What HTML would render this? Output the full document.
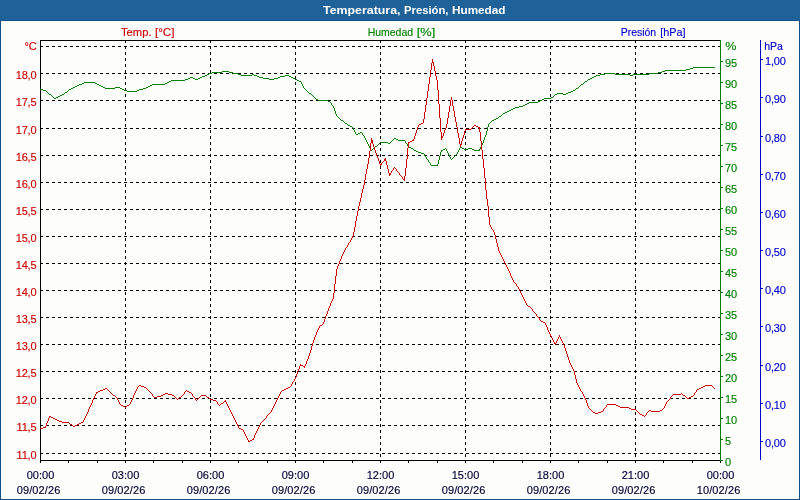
<!DOCTYPE html>
<html><head><meta charset="utf-8"><title>Temperatura, Presión, Humedad</title>
<style>html,body{margin:0;padding:0;background:#0e508c;overflow:hidden}svg{display:block}text{font-family:"Liberation Sans",sans-serif;font-size:11px;stroke-width:.15px;paint-order:stroke}.ax text{letter-spacing:-.15px}</style></head><body>
<svg width="800" height="500" viewBox="0 0 800 500">
<rect x="0" y="0" width="800" height="500" fill="#0e508c"/>
<defs><pattern id="dz" width="4" height="4" patternUnits="userSpaceOnUse"><rect x="3" y="1" width="1" height="1" fill="#2a6cc6"/><rect x="1" y="3" width="1" height="1" fill="#2a6cc6"/></pattern></defs>
<rect x="0" y="0" width="800" height="20" fill="#1d6197"/>
<rect x="0" y="0" width="800" height="20" fill="url(#dz)" opacity="0.4" shape-rendering="crispEdges"/>
<rect x="1" y="21" width="798" height="478" fill="#fdfefc"/>
<g fill="#ffffff" font-weight="bold" lengthAdjust="spacingAndGlyphs"><text x="323" y="14" textLength="77.5" lengthAdjust="spacingAndGlyphs">Temperatura,</text><text x="404" y="14" textLength="44.5" lengthAdjust="spacingAndGlyphs">Presión,</text><text x="452" y="14" textLength="53.5" lengthAdjust="spacingAndGlyphs">Humedad</text></g>
<g fill="#cc0000" stroke="#cc0000"><text x="121" y="36" textLength="30.5" lengthAdjust="spacingAndGlyphs">Temp.</text><text x="155" y="36" textLength="19.5" lengthAdjust="spacingAndGlyphs">[°C]</text></g>
<g fill="#008000" stroke="#008000"><text x="367.7" y="36" textLength="45.4" lengthAdjust="spacingAndGlyphs">Humedad</text><text x="416.8" y="36" textLength="18.6" lengthAdjust="spacingAndGlyphs">[%]</text></g>
<g fill="#0000cc" stroke="#0000cc"><text x="620.7" y="36" textLength="35.5" lengthAdjust="spacingAndGlyphs">Presión</text><text x="660.3" y="36" textLength="25.2" lengthAdjust="spacingAndGlyphs">[hPa]</text></g>
<g shape-rendering="crispEdges" fill="none" stroke="#000" stroke-width="1">
<g stroke-dasharray="3 3">
<line x1="40" y1="46.5" x2="720" y2="46.5"/>
<line x1="40" y1="73.5" x2="720" y2="73.5"/>
<line x1="40" y1="100.5" x2="720" y2="100.5"/>
<line x1="40" y1="128.5" x2="720" y2="128.5"/>
<line x1="40" y1="155.5" x2="720" y2="155.5"/>
<line x1="40" y1="182.5" x2="720" y2="182.5"/>
<line x1="40" y1="209.5" x2="720" y2="209.5"/>
<line x1="40" y1="236.5" x2="720" y2="236.5"/>
<line x1="40" y1="263.5" x2="720" y2="263.5"/>
<line x1="40" y1="290.5" x2="720" y2="290.5"/>
<line x1="40" y1="317.5" x2="720" y2="317.5"/>
<line x1="40" y1="344.5" x2="720" y2="344.5"/>
<line x1="40" y1="371.5" x2="720" y2="371.5"/>
<line x1="40" y1="398.5" x2="720" y2="398.5"/>
<line x1="40" y1="425.5" x2="720" y2="425.5"/>
<line x1="40" y1="453.5" x2="720" y2="453.5"/>
<line x1="125.5" y1="40" x2="125.5" y2="460"/>
<line x1="210.5" y1="40" x2="210.5" y2="460"/>
<line x1="295.5" y1="40" x2="295.5" y2="460"/>
<line x1="380.5" y1="40" x2="380.5" y2="460"/>
<line x1="465.5" y1="40" x2="465.5" y2="460"/>
<line x1="550.5" y1="40" x2="550.5" y2="460"/>
<line x1="635.5" y1="40" x2="635.5" y2="460"/>
</g>
<path d="M40 40.5H721M40.5 40V463M40 460.5H721"/>
<path d="M68.5 460V463M97.5 460V463M125.5 460V463M153.5 460V463M182.5 460V463M210.5 460V463M238.5 460V463M267.5 460V463M295.5 460V463M323.5 460V463M352.5 460V463M380.5 460V463M408.5 460V463M437.5 460V463M465.5 460V463M493.5 460V463M522.5 460V463M550.5 460V463M578.5 460V463M607.5 460V463M635.5 460V463M663.5 460V463M692.5 460V463M720.5 460V463"/>
<path stroke="#008000" d="M720.5 40V461M720 460.5H723M720 439.5H723M720 418.5H723M720 397.5H723M720 376.5H723M720 355.5H723M720 334.5H723M720 313.5H723M720 292.5H723M720 271.5H723M720 250.5H723M720 229.5H723M720 208.5H723M720 187.5H723M720 166.5H723M720 145.5H723M720 124.5H723M720 103.5H723M720 82.5H723M720 61.5H723"/>
<path stroke="#0000cc" d="M760.5 40V460M760 441.5H763M760 403.5H763M760 365.5H763M760 326.5H763M760 288.5H763M760 250.5H763M760 212.5H763M760 174.5H763M760 136.5H763M760 97.5H763M760 59.5H763"/>
<path stroke="#008000" d="M334.5 108v3M335.5 111v3M438.5 160v4M439.5 156v4M440.5 152v4M483.5 140v3M484.5 137v3M486.5 131v4M487.5 127v4M488.5 124v3M693 67.5h22M690 68.5h3M686 69.5h4M665 70.5h21M222 71.5h7M662 71.5h3M212 72.5h10M229 72.5h4M658 72.5h4M209 73.5h3M233 73.5h5M605 73.5h10M649 73.5h9M207 74.5h2M238 74.5h3M252 74.5h2M600 74.5h5M615 74.5h15M633 74.5h16M205 75.5h2M241 75.5h11M254 75.5h3M285 75.5h4M596 75.5h4M630 75.5h3M202 76.5h3M257 76.5h2M280 76.5h5M289 76.5h2M594 76.5h2M190 77.5h3M200 77.5h2M259 77.5h4M278 77.5h2M291 77.5h2M592 77.5h2M188 78.5h2M193 78.5h2M198 78.5h2M263 78.5h6M274 78.5h4M293 78.5h2M590 78.5h2M185 79.5h3M195 79.5h3M269 79.5h5M295 79.5h2M588 79.5h2M171 80.5h14M297 80.5h2M587 80.5h1M169 81.5h2M299 81.5h2M585 81.5h2M84 82.5h11M167 82.5h2M301 82.5h1M584 82.5h1M82 83.5h2M95 83.5h2M165 83.5h2M301 83.5h1M583 83.5h1M79 84.5h3M97 84.5h2M152 84.5h13M302 84.5h1M581 84.5h2M77 85.5h2M99 85.5h2M150 85.5h2M302 85.5h1M580 85.5h1M75 86.5h2M101 86.5h2M148 86.5h2M303 86.5h1M579 86.5h1M73 87.5h2M103 87.5h2M115 87.5h5M146 87.5h2M303 87.5h1M578 87.5h1M71 88.5h2M105 88.5h10M120 88.5h2M143 88.5h3M304 88.5h1M576 88.5h2M40 89.5h3M69 89.5h2M122 89.5h2M139 89.5h4M305 89.5h1M575 89.5h1M43 90.5h3M68 90.5h1M124 90.5h3M137 90.5h2M306 90.5h1M573 90.5h2M46 91.5h1M67 91.5h1M127 91.5h10M307 91.5h1M571 91.5h2M47 92.5h1M65 92.5h2M308 92.5h1M568 92.5h3M48 93.5h1M64 93.5h1M309 93.5h2M557 93.5h6M566 93.5h2M49 94.5h2M62 94.5h2M311 94.5h1M555 94.5h2M563 94.5h3M51 95.5h1M60 95.5h2M312 95.5h1M554 95.5h1M52 96.5h1M58 96.5h2M313 96.5h1M553 96.5h1M53 97.5h1M56 97.5h2M314 97.5h1M551 97.5h2M54 98.5h2M315 98.5h1M544 98.5h7M316 99.5h2M542 99.5h2M318 100.5h10M540 100.5h2M328 101.5h2M538 101.5h2M330 102.5h1M529 102.5h9M331 103.5h1M527 103.5h2M331 104.5h1M525 104.5h2M332 105.5h1M523 105.5h2M333 106.5h1M519 106.5h4M333 107.5h1M515 107.5h4M513 108.5h2M511 109.5h2M509 110.5h2M507 111.5h2M505 112.5h2M503 113.5h2M336 114.5h1M502 114.5h1M336 115.5h1M501 115.5h1M337 116.5h1M499 116.5h2M338 117.5h1M498 117.5h1M339 118.5h1M496 118.5h2M340 119.5h1M494 119.5h2M341 120.5h2M492 120.5h2M343 121.5h1M491 121.5h1M344 122.5h1M490 122.5h1M345 123.5h2M489 123.5h1M347 124.5h1M348 125.5h2M350 126.5h2M352 127.5h1M353 128.5h1M353 129.5h1M354 130.5h1M354 131.5h1M355 132.5h1M360 132.5h2M355 133.5h1M358 133.5h2M362 133.5h1M356 134.5h2M362 134.5h1M363 135.5h1M485 135.5h1M364 136.5h1M485 136.5h1M364 137.5h1M365 138.5h1M394 138.5h2M365 139.5h1M393 139.5h1M396 139.5h2M366 140.5h1M392 140.5h1M398 140.5h7M366 141.5h1M391 141.5h1M405 141.5h1M367 142.5h1M380 142.5h8M390 142.5h1M405 142.5h1M367 143.5h1M379 143.5h1M388 143.5h2M406 143.5h1M482 143.5h1M368 144.5h1M378 144.5h1M407 144.5h1M482 144.5h1M368 145.5h1M377 145.5h1M407 145.5h1M481 145.5h1M369 146.5h1M375 146.5h2M408 146.5h1M481 146.5h1M369 147.5h1M374 147.5h1M409 147.5h2M460 147.5h2M480 147.5h1M370 148.5h1M373 148.5h1M411 148.5h2M445 148.5h1M459 148.5h1M462 148.5h2M468 148.5h4M480 148.5h1M370 149.5h1M372 149.5h1M413 149.5h1M443 149.5h2M446 149.5h1M459 149.5h1M464 149.5h4M472 149.5h2M479 149.5h1M371 150.5h1M414 150.5h2M441 150.5h2M446 150.5h1M458 150.5h1M474 150.5h6M416 151.5h2M441 151.5h1M447 151.5h1M458 151.5h1M418 152.5h3M447 152.5h1M457 152.5h1M421 153.5h3M448 153.5h1M457 153.5h1M424 154.5h1M448 154.5h1M456 154.5h1M424 155.5h1M449 155.5h1M455 155.5h1M425 156.5h1M449 156.5h1M454 156.5h1M426 157.5h1M450 157.5h1M453 157.5h1M426 158.5h1M450 158.5h1M452 158.5h1M427 159.5h1M451 159.5h1M428 160.5h1M428 161.5h1M429 162.5h1M430 163.5h1M430 164.5h1M437 164.5h1M431 165.5h7"/>
<path stroke="#cc0000" d="M46.5 423v3M48.5 418v3M88.5 409v3M92.5 400v3M133.5 395v3M254.5 435v3M296.5 374v3M297.5 371v3M299.5 366v3M306.5 361v3M308.5 356v3M309.5 353v3M310.5 350v3M311.5 346v4M312.5 343v3M313.5 340v3M314.5 337v3M316.5 332v3M324.5 319v3M325.5 316v3M327.5 311v3M328.5 308v3M330.5 303v3M333.5 293v6M334.5 284v9M335.5 276v8M336.5 269v7M337.5 266v3M339.5 261v3M341.5 256v3M353.5 232v4M354.5 227v5M355.5 221v6M356.5 216v5M357.5 211v5M358.5 206v5M359.5 202v4M360.5 198v4M361.5 193v5M362.5 189v4M363.5 185v4M364.5 180v5M365.5 174v6M366.5 169v5M367.5 164v5M368.5 158v6M369.5 151v7M370.5 143v8M371.5 138v5M372.5 140v4M373.5 144v3M374.5 147v3M375.5 150v3M376.5 153v3M378.5 158v3M379.5 161v3M385.5 158v3M386.5 161v4M387.5 165v4M388.5 169v4M389.5 173v3M404.5 176v5M405.5 168v8M406.5 159v9M407.5 148v11M408.5 142v6M414.5 136v3M415.5 133v3M416.5 130v3M417.5 127v3M423.5 119v4M424.5 112v7M425.5 105v7M426.5 98v7M427.5 91v7M428.5 84v7M429.5 77v7M430.5 70v7M431.5 63v7M432.5 59v4M433.5 62v4M434.5 66v5M435.5 71v5M436.5 76v4M437.5 80v10M438.5 90v14M439.5 104v14M440.5 118v14M441.5 132v8M443.5 133v3M444.5 130v3M446.5 124v4M447.5 118v6M448.5 112v6M449.5 106v6M450.5 100v6M451.5 97v3M452.5 100v6M453.5 106v5M454.5 111v6M455.5 117v5M456.5 122v5M457.5 127v6M458.5 133v5M459.5 138v6M460.5 144v3M461.5 141v4M462.5 138v3M463.5 135v3M464.5 131v4M479.5 127v5M480.5 132v9M481.5 141v9M482.5 150v9M483.5 159v9M484.5 168v10M485.5 178v12M486.5 190v9M487.5 199v7M488.5 206v11M489.5 217v8M494.5 232v3M495.5 235v4M496.5 239v4M497.5 243v4M498.5 247v4M510.5 273v3M547.5 327v3M564.5 345v3M565.5 348v3M566.5 351v3M567.5 354v3M568.5 357v3M569.5 360v3M574.5 371v4M575.5 375v4M576.5 379v4M586.5 400v3M587.5 403v3M421 123.5h2M419 124.5h2M418 125.5h1M474 125.5h2M418 126.5h1M473 126.5h1M476 126.5h2M472 127.5h1M478 127.5h1M445 128.5h1M471 128.5h1M445 129.5h1M465 129.5h6M465 130.5h1M442 136.5h1M442 137.5h1M413 139.5h1M412 140.5h2M410 141.5h2M409 142.5h1M377 156.5h1M377 157.5h1M384 159.5h1M384 160.5h1M383 161.5h1M382 162.5h1M381 163.5h1M380 164.5h2M380 165.5h1M394 167.5h1M393 168.5h1M395 168.5h1M393 169.5h1M396 169.5h1M392 170.5h1M396 170.5h1M391 171.5h1M397 171.5h1M391 172.5h1M398 172.5h1M390 173.5h1M399 173.5h1M390 174.5h1M399 174.5h1M400 175.5h1M401 176.5h1M402 177.5h1M402 178.5h1M403 179.5h1M490 225.5h1M490 226.5h1M491 227.5h1M491 228.5h1M492 229.5h1M493 230.5h1M493 231.5h1M352 236.5h1M352 237.5h1M351 238.5h1M351 239.5h1M350 240.5h1M350 241.5h1M349 242.5h1M348 243.5h1M348 244.5h1M347 245.5h1M347 246.5h1M346 247.5h1M345 248.5h1M345 249.5h1M344 250.5h1M344 251.5h1M499 251.5h1M343 252.5h1M499 252.5h1M343 253.5h1M500 253.5h1M342 254.5h1M500 254.5h1M342 255.5h1M501 255.5h1M501 256.5h1M502 257.5h1M502 258.5h1M340 259.5h1M503 259.5h1M340 260.5h1M503 260.5h1M504 261.5h1M504 262.5h1M505 263.5h1M338 264.5h1M505 264.5h1M338 265.5h1M506 265.5h1M506 266.5h1M507 267.5h1M507 268.5h1M508 269.5h1M508 270.5h1M509 271.5h1M509 272.5h1M511 276.5h1M511 277.5h1M512 278.5h1M512 279.5h1M513 280.5h1M513 281.5h1M514 282.5h1M515 283.5h1M516 284.5h1M516 285.5h1M517 286.5h1M518 287.5h1M518 288.5h1M519 289.5h1M519 290.5h1M520 291.5h1M520 292.5h1M521 293.5h1M521 294.5h1M522 295.5h1M522 296.5h1M523 297.5h1M523 298.5h1M332 299.5h1M524 299.5h1M332 300.5h1M524 300.5h1M331 301.5h1M525 301.5h1M331 302.5h1M525 302.5h1M526 303.5h1M526 304.5h1M527 305.5h1M329 306.5h1M528 306.5h2M329 307.5h1M530 307.5h1M531 308.5h1M532 309.5h1M532 310.5h1M533 311.5h1M534 312.5h1M535 313.5h1M326 314.5h1M536 314.5h1M326 315.5h1M536 315.5h1M537 316.5h1M538 317.5h1M539 318.5h1M539 319.5h1M540 320.5h1M541 321.5h2M323 322.5h1M543 322.5h2M323 323.5h1M545 323.5h1M322 324.5h1M545 324.5h1M320 325.5h2M546 325.5h1M319 326.5h1M546 326.5h1M319 327.5h1M318 328.5h1M318 329.5h1M317 330.5h1M548 330.5h1M317 331.5h1M548 331.5h1M549 332.5h1M549 333.5h1M550 334.5h1M315 335.5h1M550 335.5h1M559 335.5h1M315 336.5h1M551 336.5h1M559 336.5h1M551 337.5h1M558 337.5h1M560 337.5h1M552 338.5h1M558 338.5h1M560 338.5h1M552 339.5h1M557 339.5h1M561 339.5h1M553 340.5h1M557 340.5h1M561 340.5h1M553 341.5h1M556 341.5h1M562 341.5h1M554 342.5h1M556 342.5h1M562 342.5h1M554 343.5h2M563 343.5h1M555 344.5h1M563 344.5h1M307 359.5h1M307 360.5h1M570 363.5h1M300 364.5h1M305 364.5h1M570 364.5h1M300 365.5h3M305 365.5h1M571 365.5h1M303 366.5h2M571 366.5h1M304 367.5h1M572 367.5h1M572 368.5h1M298 369.5h1M573 369.5h1M298 370.5h1M573 370.5h1M295 377.5h1M295 378.5h1M294 379.5h1M294 380.5h1M293 381.5h1M292 382.5h1M292 383.5h1M577 383.5h1M291 384.5h1M577 384.5h1M139 385.5h2M291 385.5h1M578 385.5h1M705 385.5h7M138 386.5h1M141 386.5h3M290 386.5h1M578 386.5h1M703 386.5h2M712 386.5h1M137 387.5h1M144 387.5h2M288 387.5h2M579 387.5h1M701 387.5h2M713 387.5h1M105 388.5h2M137 388.5h1M146 388.5h1M286 388.5h2M579 388.5h1M699 388.5h2M714 388.5h1M103 389.5h2M107 389.5h1M136 389.5h1M147 389.5h1M284 389.5h2M580 389.5h1M697 389.5h2M100 390.5h3M108 390.5h1M136 390.5h1M148 390.5h1M186 390.5h1M282 390.5h2M580 390.5h1M696 390.5h1M98 391.5h2M109 391.5h1M135 391.5h1M149 391.5h1M185 391.5h1M187 391.5h2M281 391.5h1M581 391.5h1M696 391.5h1M96 392.5h2M110 392.5h1M135 392.5h1M150 392.5h1M184 392.5h1M189 392.5h2M280 392.5h1M582 392.5h1M695 392.5h1M96 393.5h1M111 393.5h1M134 393.5h1M151 393.5h1M165 393.5h3M184 393.5h1M191 393.5h1M280 393.5h1M582 393.5h1M681 393.5h1M694 393.5h1M95 394.5h1M112 394.5h1M134 394.5h1M152 394.5h1M163 394.5h2M168 394.5h4M183 394.5h1M192 394.5h1M279 394.5h1M583 394.5h1M673 394.5h8M682 394.5h1M694 394.5h1M95 395.5h1M113 395.5h2M152 395.5h1M161 395.5h2M172 395.5h2M182 395.5h1M192 395.5h1M201 395.5h5M279 395.5h1M583 395.5h1M672 395.5h1M683 395.5h2M693 395.5h1M94 396.5h1M115 396.5h1M153 396.5h1M157 396.5h4M174 396.5h1M181 396.5h1M193 396.5h1M200 396.5h1M206 396.5h1M278 396.5h1M584 396.5h1M671 396.5h1M685 396.5h1M691 396.5h2M94 397.5h1M116 397.5h1M154 397.5h3M175 397.5h1M179 397.5h2M194 397.5h1M199 397.5h1M207 397.5h2M278 397.5h1M584 397.5h1M670 397.5h1M686 397.5h1M689 397.5h2M93 398.5h1M117 398.5h1M132 398.5h1M176 398.5h1M178 398.5h1M195 398.5h1M198 398.5h1M209 398.5h1M277 398.5h1M585 398.5h1M670 398.5h1M687 398.5h2M93 399.5h1M117 399.5h1M132 399.5h1M177 399.5h1M195 399.5h1M197 399.5h1M210 399.5h3M277 399.5h1M585 399.5h1M669 399.5h1M118 400.5h1M131 400.5h1M196 400.5h1M213 400.5h3M225 400.5h1M276 400.5h1M668 400.5h1M118 401.5h1M131 401.5h1M216 401.5h1M224 401.5h2M276 401.5h1M667 401.5h1M119 402.5h1M130 402.5h1M217 402.5h1M223 402.5h1M226 402.5h1M275 402.5h1M666 402.5h1M91 403.5h1M119 403.5h1M130 403.5h1M217 403.5h1M221 403.5h2M226 403.5h1M275 403.5h1M666 403.5h1M91 404.5h1M120 404.5h1M129 404.5h1M218 404.5h1M220 404.5h1M227 404.5h1M274 404.5h1M607 404.5h9M665 404.5h1M90 405.5h1M121 405.5h2M127 405.5h2M219 405.5h1M227 405.5h1M274 405.5h1M606 405.5h1M616 405.5h2M665 405.5h1M90 406.5h1M123 406.5h2M126 406.5h1M228 406.5h1M273 406.5h1M588 406.5h1M606 406.5h1M618 406.5h2M664 406.5h1M89 407.5h1M125 407.5h1M228 407.5h1M273 407.5h1M588 407.5h1M605 407.5h1M620 407.5h9M664 407.5h1M89 408.5h1M229 408.5h1M272 408.5h1M589 408.5h1M604 408.5h1M629 408.5h2M663 408.5h1M229 409.5h1M272 409.5h1M590 409.5h1M603 409.5h1M631 409.5h5M662 409.5h1M230 410.5h1M271 410.5h1M591 410.5h1M603 410.5h1M636 410.5h1M649 410.5h2M660 410.5h2M230 411.5h1M271 411.5h1M592 411.5h1M601 411.5h2M637 411.5h1M648 411.5h1M651 411.5h9M87 412.5h1M231 412.5h1M270 412.5h1M593 412.5h2M598 412.5h3M638 412.5h1M647 412.5h1M87 413.5h1M231 413.5h1M269 413.5h1M595 413.5h3M639 413.5h1M646 413.5h1M86 414.5h1M232 414.5h1M268 414.5h1M640 414.5h2M646 414.5h1M86 415.5h1M232 415.5h1M267 415.5h1M642 415.5h2M645 415.5h1M49 416.5h2M85 416.5h1M233 416.5h1M266 416.5h1M644 416.5h1M49 417.5h1M51 417.5h2M85 417.5h1M233 417.5h1M266 417.5h1M53 418.5h2M84 418.5h1M234 418.5h1M265 418.5h1M55 419.5h2M84 419.5h1M234 419.5h1M264 419.5h1M57 420.5h2M83 420.5h1M235 420.5h1M263 420.5h1M47 421.5h1M59 421.5h3M83 421.5h1M235 421.5h1M262 421.5h1M47 422.5h1M62 422.5h7M81 422.5h2M236 422.5h1M261 422.5h1M69 423.5h1M79 423.5h2M236 423.5h1M260 423.5h1M70 424.5h2M77 424.5h2M237 424.5h1M260 424.5h1M72 425.5h1M75 425.5h2M237 425.5h1M259 425.5h1M45 426.5h1M73 426.5h2M238 426.5h1M259 426.5h1M43 427.5h3M238 427.5h1M258 427.5h1M40 428.5h3M239 428.5h2M258 428.5h1M241 429.5h2M257 429.5h1M243 430.5h1M257 430.5h1M243 431.5h1M256 431.5h1M244 432.5h1M256 432.5h1M244 433.5h1M255 433.5h1M245 434.5h1M255 434.5h1M245 435.5h1M246 436.5h1M246 437.5h1M247 438.5h1M253 438.5h1M247 439.5h1M252 439.5h2M248 440.5h1M250 440.5h2M248 441.5h2"/>
</g>
<g class="ax" fill="#cc0000" stroke="#cc0000" text-anchor="end">
<text x="36.5" y="50">°C</text>
<text x="36.5" y="79">18,0</text>
<text x="36.5" y="106">17,5</text>
<text x="36.5" y="134">17,0</text>
<text x="36.5" y="161">16,5</text>
<text x="36.5" y="188">16,0</text>
<text x="36.5" y="215">15,5</text>
<text x="36.5" y="242">15,0</text>
<text x="36.5" y="269">14,5</text>
<text x="36.5" y="296">14,0</text>
<text x="36.5" y="323">13,5</text>
<text x="36.5" y="350">13,0</text>
<text x="36.5" y="377">12,5</text>
<text x="36.5" y="404">12,0</text>
<text x="36.5" y="431">11,5</text>
<text x="36.5" y="459">11,0</text>
</g>
<g class="ax" fill="#008000" stroke="#008000">
<text x="725.2" y="50" textLength="11" lengthAdjust="spacingAndGlyphs">%</text>
<text x="725" y="466">0</text>
<text x="725" y="445">5</text>
<text x="725" y="424">10</text>
<text x="725" y="403">15</text>
<text x="725" y="382">20</text>
<text x="725" y="361">25</text>
<text x="725" y="340">30</text>
<text x="725" y="319">35</text>
<text x="725" y="298">40</text>
<text x="725" y="277">45</text>
<text x="725" y="256">50</text>
<text x="725" y="235">55</text>
<text x="725" y="214">60</text>
<text x="725" y="193">65</text>
<text x="725" y="172">70</text>
<text x="725" y="151">75</text>
<text x="725" y="130">80</text>
<text x="725" y="109">85</text>
<text x="725" y="88">90</text>
<text x="725" y="67">95</text>
</g>
<g class="ax" fill="#0000cc" stroke="#0000cc">
<text x="764.3" y="50" textLength="18.3" lengthAdjust="spacingAndGlyphs">hPa</text>
<text x="765" y="447">0,00</text>
<text x="765" y="409">0,10</text>
<text x="765" y="371">0,20</text>
<text x="765" y="332">0,30</text>
<text x="765" y="294">0,40</text>
<text x="765" y="256">0,50</text>
<text x="765" y="218">0,60</text>
<text x="765" y="180">0,70</text>
<text x="765" y="142">0,80</text>
<text x="765" y="103">0,90</text>
<text x="765" y="65">1,00</text>
</g>
<g fill="#000033" stroke="#000033" text-anchor="middle">
<text x="40.5" y="479">00:00</text>
<text x="38.5" y="494" textLength="43.6">09/02/26</text>
<text x="125.5" y="479">03:00</text>
<text x="123.5" y="494" textLength="43.6">09/02/26</text>
<text x="210.5" y="479">06:00</text>
<text x="208.5" y="494" textLength="43.6">09/02/26</text>
<text x="295.5" y="479">09:00</text>
<text x="293.5" y="494" textLength="43.6">09/02/26</text>
<text x="380.5" y="479">12:00</text>
<text x="378.5" y="494" textLength="43.6">09/02/26</text>
<text x="465.5" y="479">15:00</text>
<text x="463.5" y="494" textLength="43.6">09/02/26</text>
<text x="550.5" y="479">18:00</text>
<text x="548.5" y="494" textLength="43.6">09/02/26</text>
<text x="635.5" y="479">21:00</text>
<text x="633.5" y="494" textLength="43.6">09/02/26</text>
<text x="720.5" y="479">00:00</text>
<text x="718.5" y="494" textLength="43.6">10/02/26</text>
</g>
</svg></body></html>
